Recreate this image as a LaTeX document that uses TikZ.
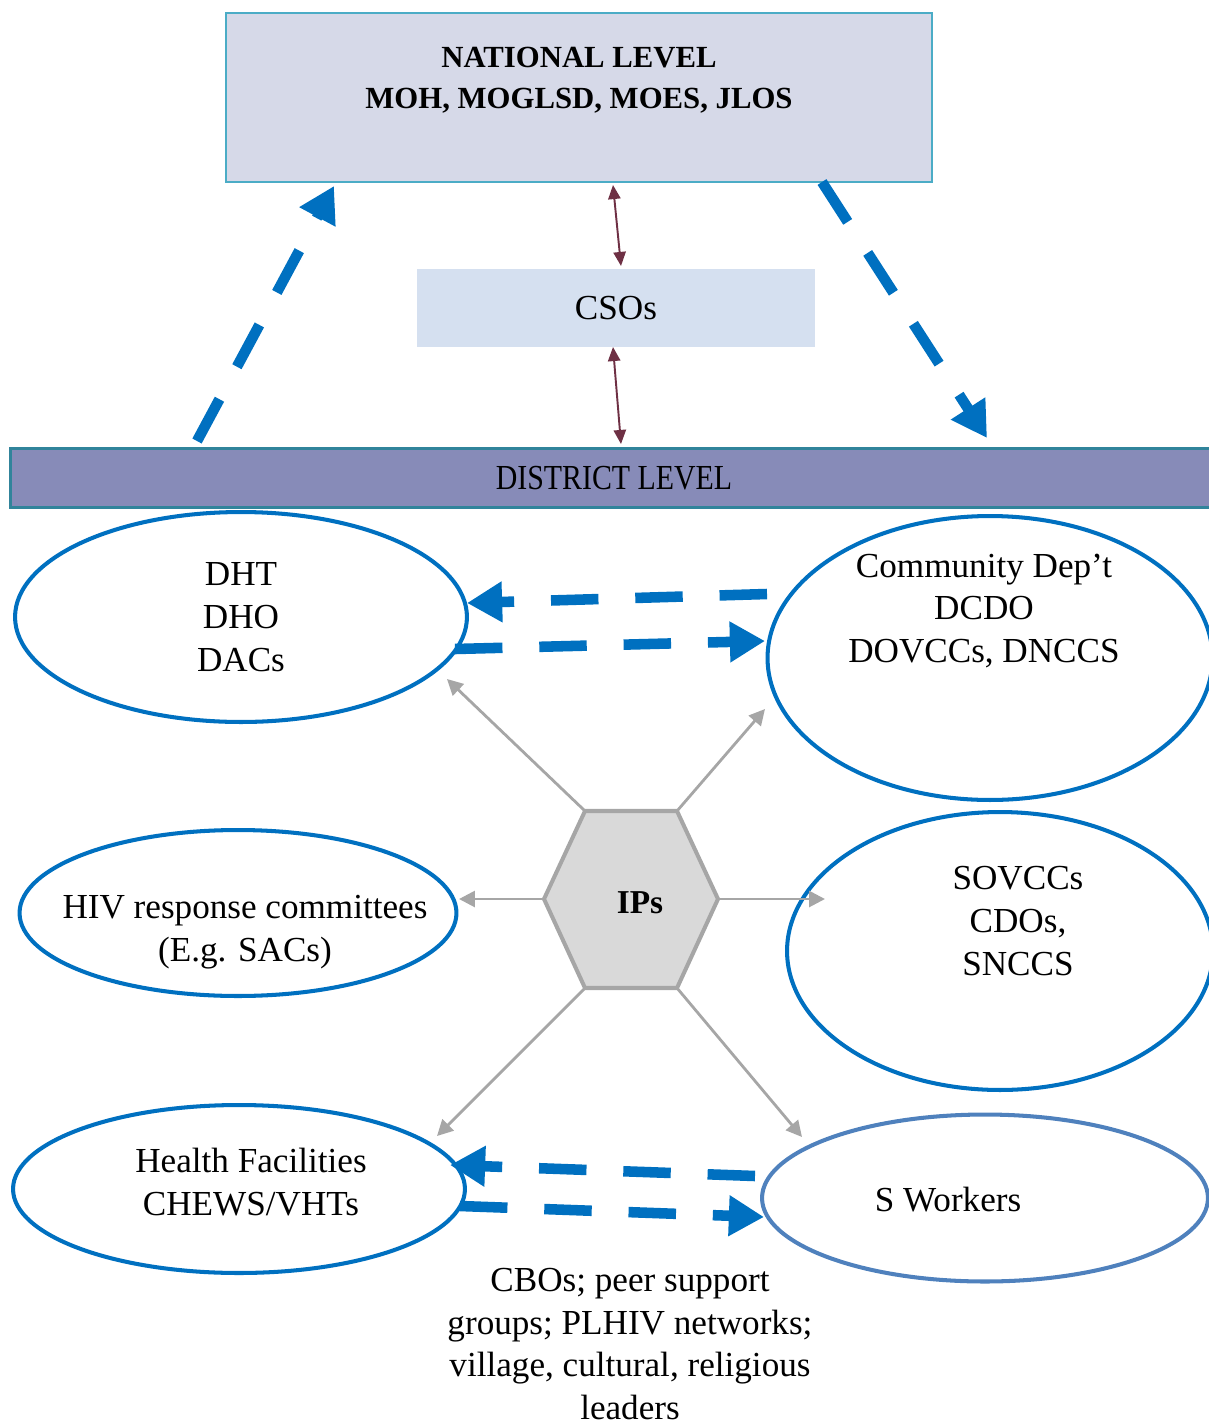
\documentclass[tikz,border=0pt]{standalone}
\usepackage{fontspec}
\setmainfont{Liberation Serif}
\usepackage{tikz}
\usetikzlibrary{arrows.meta,positioning,shapes.geometric}
\definecolor{natfill}{HTML}{D6D9E8}
\definecolor{natline}{HTML}{4BACC6}
\definecolor{csofill}{HTML}{D5E0F0}
\definecolor{distfill}{HTML}{878BB8}
\definecolor{distline}{HTML}{31849B}
\definecolor{ovalblue}{HTML}{0070C0}
\definecolor{swblue}{HTML}{4F81BD}
\definecolor{hexfill}{HTML}{D9D9D9}
\definecolor{hexline}{HTML}{A6A6A6}
\definecolor{csored}{HTML}{6E3044}
\tikzset{
  txt/.style={font=\fontsize{20}{24.4}\selectfont,align=center,inner sep=0pt},
  boldtxt/.style={txt,font=\fontsize{17.5}{23}\selectfont\bfseries},
  lvl/.style={ellipse,draw=ovalblue,line width=2.3pt},
  flow/.style={ovalblue,line width=6pt,dash pattern=on 27pt off 21pt,
    -{Triangle[length=20pt,width=22pt]}},
  spoke/.style={hexline,line width=1.6pt,-{Triangle[length=9pt,width=9pt]}},
  link/.style={csored,line width=1.1pt,
    {Triangle[length=8pt,width=7pt]}-{Triangle[length=8pt,width=7pt]}},
}
\begin{document}
\begin{tikzpicture}[x=0.02cm,y=-0.02cm]
  \useasboundingbox (0,0) rectangle (1208,1427);
  % National level
  \node[draw=natline,fill=natfill,line width=1pt,minimum width=14.12cm,minimum height=3.38cm] (nat) at (579,97.5) {};
  \node[boldtxt] (nattxt) at (579,80) {NATIONAL LEVEL\\MOH, MOGLSD, MOES, JLOS};
  % CSOs
  \node[txt,fill=csofill,minimum width=7.96cm,minimum height=1.56cm] (cso) at (616,308) {CSOs};
  % District level
  \node[txt,draw=distline,fill=distfill,line width=1.7pt,minimum width=24.16cm,minimum height=1.18cm] (dist) at (614,478) {\scalebox{0.85}[1]{DISTRICT LEVEL}};
  % Links national - CSOs - district
  \coordinate (l1a) at (613,185); \coordinate (l1b) at (621,266);
  \coordinate (l2a) at (613,347); \coordinate (l2b) at (621,444);
  \draw[link] (l1a) -- (l1b);
  \draw[link] (l2a) -- (l2b);
  % Flows between levels
  \coordinate (upS) at (197,441); \coordinate (upE) at (334,186);
  \coordinate (dnS) at (822,182); \coordinate (dnE) at (987,438);
  \draw[flow] (upS) -- (upE);
  \draw[flow] (dnS) -- (dnE);
  % District structures
  \node[txt,lvl,minimum width=9.04cm,minimum height=4.2cm] (dht) at (241,617) {DHT\\DHO\\DACs};
  \node[lvl,minimum width=8.9cm,minimum height=5.68cm] (comm) at (990,658) {};
  \node[txt] (commtxt) at (984,611) {Community Dep’t\\DCDO\\DOVCCs, DNCCS};
  % Sub-county structures
  \node[lvl,minimum width=8.74cm,minimum height=3.32cm] (hiv) at (238,913) {};
  \node[txt] (hivtxt) at (245,932) {HIV response committees\\(E.g. SACs)};
  \node[lvl,minimum width=8.52cm,minimum height=5.56cm] (sub) at (1000,951) {};
  \node[txt] (subtxt) at (1018,921) {SOVCCs\\CDOs,\\SNCCS};
  % Community structures
  \node[lvl,minimum width=9.04cm,minimum height=3.36cm] (hf) at (239,1189) {};
  \node[txt] (hftxt) at (251,1182) {Health Facilities\\CHEWS/VHTs};
  \node[lvl,draw=swblue,minimum width=8.92cm,minimum height=3.34cm] (sw) at (985,1198) {};
  \node[txt] (swtxt) at (948,1200) {S Workers};
  % Horizontal flows
  \coordinate (f1S) at (767,594);  \coordinate (f1E) at (467,603);
  \coordinate (f2S) at (455,649);  \coordinate (f2E) at (765,641);
  \coordinate (f3S) at (755,1176); \coordinate (f3E) at (450,1165);
  \coordinate (f4S) at (460,1206); \coordinate (f4E) at (764,1217);
  \draw[flow] (f1S) -- (f1E);
  \draw[flow] (f2S) -- (f2E);
  \draw[flow] (f3S) -- (f3E);
  \draw[flow] (f4S) -- (f4E);
  % IPs hexagon
  \coordinate (h1) at (585,811); \coordinate (h2) at (677,811);
  \coordinate (h3) at (718,899); \coordinate (h4) at (677,988);
  \coordinate (h5) at (585,988); \coordinate (h6) at (544,899);
  \coordinate (t1) at (447,679);  \coordinate (t2) at (765,709);
  \coordinate (t3) at (825,899);  \coordinate (t4) at (802,1137);
  \coordinate (t5) at (437,1136); \coordinate (t6) at (459,899);
  \foreach \i in {1,...,6} {
    \draw[spoke] (h\i) -- (t\i);
  }
  \draw[hexline,fill=hexfill,line width=2.3pt] (h1) -- (h2) -- (h3) -- (h4) -- (h5) -- (h6) -- cycle;
  \node[txt,font=\fontsize{19}{24.4}\selectfont\bfseries] (ips) at (640,903) {IPs};
  % Community actors
  \node[txt] (cbo) at (630,1344) {CBOs; peer support\\groups; PLHIV networks;\\village, cultural, religious\\leaders};
\end{tikzpicture}
\end{document}
